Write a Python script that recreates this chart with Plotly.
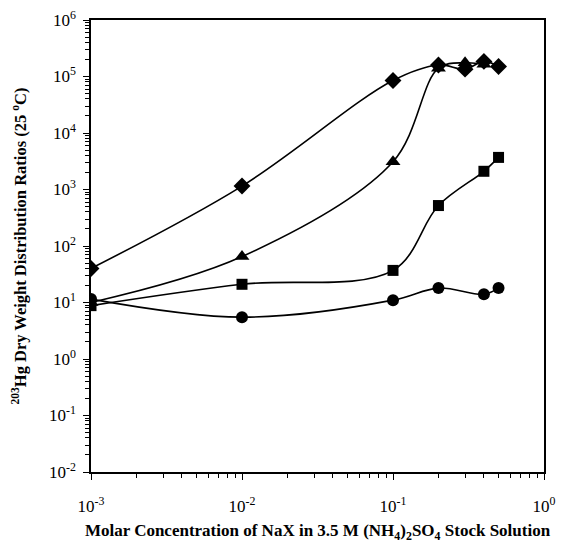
import plotly.graph_objects as go

conc_diamond = [0.001, 0.01, 0.1, 0.2, 0.3, 0.4, 0.5]
kd_diamond = [40, 1150, 85000, 160000, 135000, 185000, 150000]

conc_triangle = [0.001, 0.01, 0.1, 0.2, 0.3, 0.4]
kd_triangle = [10, 65, 3100, 140000, 175000, 165000]

conc_square = [0.001, 0.01, 0.1, 0.2, 0.4, 0.5]
kd_square = [8.8, 21, 37, 520, 2100, 3700]

conc_circle = [0.001, 0.01, 0.1, 0.2, 0.4, 0.5]
kd_circle = [11.5, 5.5, 11, 18, 14, 18]

x_tickvals = [0.001, 0.01, 0.1, 1]
x_ticktext = ["10<sup>-3</sup>", "10<sup>-2</sup>", "10<sup>-1</sup>", "10<sup>0</sup>"]
y_tickvals = [0.01, 0.1, 1, 10, 100, 1000, 1e4, 1e5, 1e6]
y_ticktext = ["10<sup>-2</sup>", "10<sup>-1</sup>", "10<sup>0</sup>", "10<sup>1</sup>", "10<sup>2</sup>",
              "10<sup>3</sup>", "10<sup>4</sup>", "10<sup>5</sup>", "10<sup>6</sup>"]

FONT = "Liberation Serif, Times New Roman, serif"

fig = go.Figure()
series = [
    (conc_diamond, kd_diamond, "diamond", 13),
    (conc_triangle, kd_triangle, "triangle-up", 13),
    (conc_square, kd_square, "square", 11),
    (conc_circle, kd_circle, "circle", 12),
]
for xs, ys, sym, sz in series:
    fig.add_trace(go.Scatter(
        x=xs, y=ys, mode="lines+markers",
        line=dict(color="black", width=1.6, shape="spline", smoothing=1.0),
        marker=dict(symbol=sym, size=sz, color="black"),
        showlegend=False,
    ))

fig.update_xaxes(
    type="log", range=[-3, 0], tickvals=x_tickvals, ticktext=x_ticktext,
    showgrid=False, zeroline=False, automargin=False,
    showline=True, linecolor="black", linewidth=1.5, mirror=True,
    ticks="outside", ticklen=6, tickcolor="black", tickwidth=1.2,
    minor=dict(ticks="outside", ticklen=4, tickcolor="black", dtick="D1", showgrid=False),
    tickfont=dict(family=FONT, size=17, color="black"),
    ticklabelstandoff=12,
    title=dict(text="<b>Molar Concentration of NaX in 3.5 M (NH<sub>4</sub>)<sub>2</sub>SO<sub>4</sub> Stock Solution</b>",
               font=dict(family=FONT, size=17, color="black"), standoff=14),
)
fig.update_yaxes(
    type="log", range=[-2, 6], tickvals=y_tickvals, ticktext=y_ticktext,
    showgrid=False, zeroline=False, automargin=False,
    showline=True, linecolor="black", linewidth=1.5, mirror=True,
    ticks="outside", ticklen=6, tickcolor="black", tickwidth=1.2,
    minor=dict(ticks="outside", ticklen=4, tickcolor="black", dtick="D1", showgrid=False),
    tickfont=dict(family=FONT, size=17, color="black"),
    ticklabelstandoff=4,
    title=dict(text="<b><sup>203</sup>Hg Dry Weight Distribution Ratios (25 <sup>o</sup>C)</b>",
               font=dict(family=FONT, size=16.5, color="black"), standoff=18),
)
fig.update_layout(
    width=563, height=543,
    margin=dict(l=91, r=19, t=20, b=71),
    paper_bgcolor="white", plot_bgcolor="white",
)
fig.write_html("out.html")
